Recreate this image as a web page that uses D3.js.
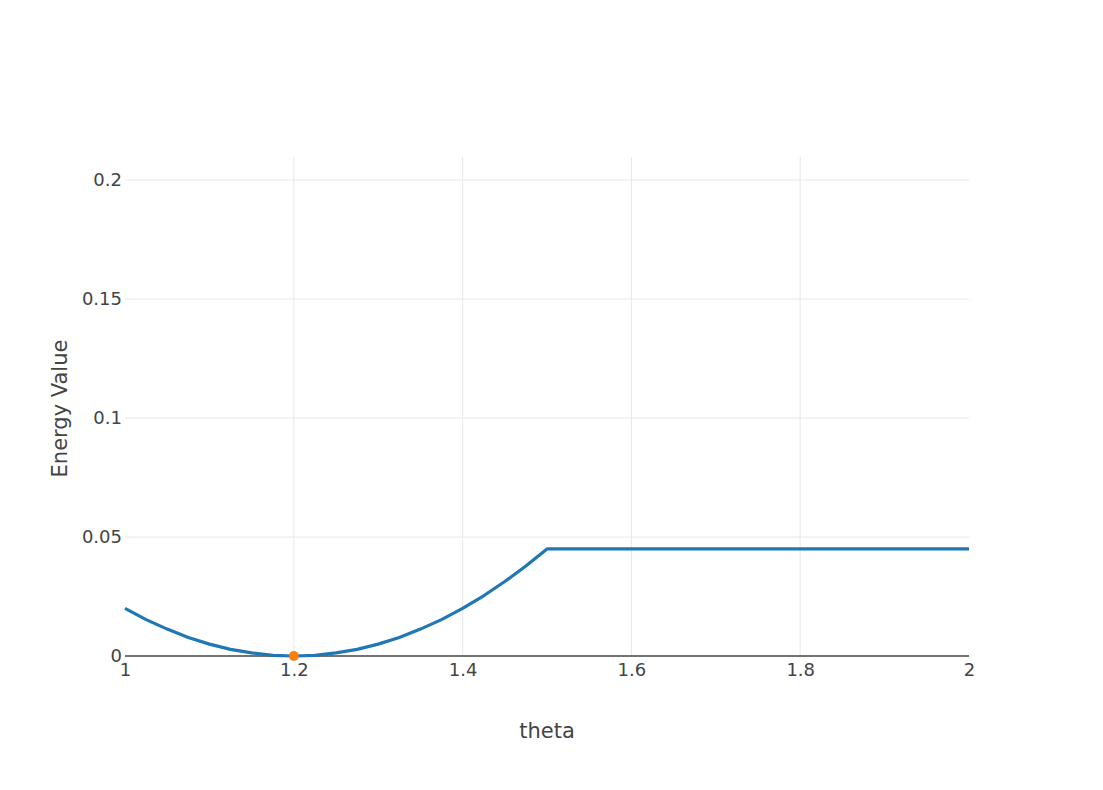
<!DOCTYPE html>
<html>
<head>
<meta charset="utf-8">
<script src="https://cdn.jsdelivr.net/npm/d3@7"></script>
<style>
  body { margin: 0; background: #fff; }
  text { font-family: "DejaVu Sans", Verdana, sans-serif; fill: #444; }
</style>
</head>
<body>
<div id="chart"></div>
<script>
const thetaVals = [1.0, 1.025, 1.05, 1.075, 1.1, 1.125, 1.15, 1.175, 1.2, 1.225, 1.25, 1.275, 1.3,
  1.325, 1.35, 1.375, 1.4, 1.425, 1.45, 1.475, 1.5, 1.6, 1.7, 1.8, 1.9, 2.0]
const energyVals = [0.02, 0.0153, 0.0113, 0.0078, 0.005, 0.0028, 0.0013, 0.0003, 0, 0.0003, 0.0013,
  0.0028, 0.005, 0.0078, 0.0113, 0.0153, 0.02, 0.0253, 0.0313, 0.0378, 0.045,
  0.045, 0.045, 0.045, 0.045, 0.045]
const minTheta = [1.2]
const minEnergy = [0]
const xTicks = [1, 1.2, 1.4, 1.6, 1.8, 2]
const yTicks = [0, 0.05, 0.1, 0.15, 0.2]

const width = 1103, height = 790
const margin = {top: 157, right: 134, bottom: 134, left: 125}

const svg = d3.select('#chart').append('svg')
  .attr('width', width)
  .attr('height', height)

const xScale = d3.scaleLinear().domain([1, 2])
  .range([margin.left, width - margin.right])
const yScale = d3.scaleLinear().domain([0, 0.2097])
  .range([height - margin.bottom, margin.top])

// grid
svg.append('g').selectAll('line').data(yTicks.filter(d => d > 0))
  .enter().append('line')
  .attr('x1', xScale(1)).attr('x2', xScale(2))
  .attr('y1', d => yScale(d)).attr('y2', d => yScale(d))
  .attr('stroke', '#e8e8e8').attr('stroke-width', 1)
svg.append('g').selectAll('line').data(xTicks.filter(d => d > 1 && d < 2))
  .enter().append('line')
  .attr('x1', d => xScale(d)).attr('x2', d => xScale(d))
  .attr('y1', yScale(0)).attr('y2', margin.top)
  .attr('stroke', '#e8e8e8').attr('stroke-width', 1)

const xAxis = d3.axisBottom(xScale).tickValues(xTicks).tickSize(0).tickPadding(7)
  .tickFormat(d3.format('~g'))
svg.append('g')
  .attr('transform', `translate(0, ${yScale(0)})`)
  .call(xAxis)
  .call(g => g.select('.domain').remove())
  .call(g => g.attr('font-family', null).attr('font-size', null))
  .selectAll('text').style('font-size', '18px').attr('fill', '#444')

const yAxis = d3.axisLeft(yScale).tickValues(yTicks).tickSize(0).tickPadding(3)
  .tickFormat(d3.format('~g'))
svg.append('g')
  .attr('transform', `translate(${margin.left}, 0)`)
  .call(yAxis)
  .call(g => g.select('.domain').remove())
  .call(g => g.attr('font-family', null).attr('font-size', null))
  .selectAll('text').style('font-size', '18px').attr('fill', '#444')

// zero line
svg.append('line')
  .attr('x1', xScale(1)).attr('x2', xScale(2))
  .attr('y1', yScale(0)).attr('y2', yScale(0))
  .attr('stroke', '#444').attr('stroke-width', 1.5)

const line = d3.line()
  .x((d, i) => xScale(thetaVals[i]))
  .y(d => yScale(d))
svg.append('path')
  .datum(energyVals)
  .attr('d', line)
  .attr('fill', 'none')
  .attr('stroke', '#1f77b4')
  .attr('stroke-width', 3.2)
  .attr('stroke-linejoin', 'round')

svg.selectAll('.minpt').data(minTheta)
  .enter().append('circle')
  .attr('cx', d => xScale(d))
  .attr('cy', (d, i) => yScale(minEnergy[i]))
  .attr('r', 5)
  .attr('fill', '#ff7f0e')

svg.append('text')
  .attr('x', (xScale(1) + xScale(2)) / 2)
  .attr('y', 738)
  .attr('text-anchor', 'middle')
  .style('font-size', '21px')
  .text('theta')

svg.append('text')
  .attr('transform', `translate(67, ${(yScale(0) + margin.top) / 2 + 2}) rotate(-90)`)
  .attr('text-anchor', 'middle')
  .style('font-size', '21px')
  .text('Energy Value')
</script>
</body>
</html>
